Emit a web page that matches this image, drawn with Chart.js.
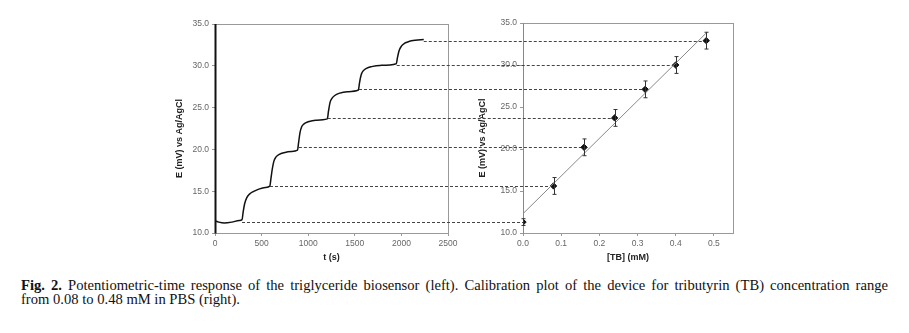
<!DOCTYPE html>
<html>
<head>
<meta charset="utf-8">
<script src="https://cdn.jsdelivr.net/npm/chart.js@4"></script>
<style>
  body { margin: 0; background: #fff; }
  #wrap { position: relative; width: 909px; height: 333px; }
  canvas { position: absolute; left: 0; top: 0; }
  #caption { position: absolute; left: 21px; top: 279px; width: 867px;
    font-family: "Liberation Serif", "Times New Roman", serif; font-size: 14.6px; line-height: 13.5px; color: #111; }
  #caption .l1 { text-align: justify; text-align-last: justify; white-space: nowrap; }
</style>
</head>
<body>
<div id="wrap">
  <canvas id="timeChart" width="909" height="265"></canvas>
  <canvas id="calChart" width="909" height="265"></canvas>
  <div id="caption">
    <div class="l1"><b>Fig. 2.</b> Potentiometric-time response of the triglyceride biosensor (left). Calibration plot of the device for tributyrin (TB) concentration range</div>
    <div>from 0.08 to 0.48 mM in PBS (right).</div>
  </div>
</div>
<script>
// left: potential vs time
const timeS = [0, 40, 100, 180, 260, 290, 302, 318, 340, 370, 410, 470, 540, 588,
  600, 614, 632, 655, 690, 740, 820, 885, 898, 912, 930, 955, 1000, 1080, 1205,
  1218, 1234, 1255, 1285, 1330, 1420, 1538, 1551, 1568, 1590, 1625, 1680, 1770, 1945,
  1958, 1975, 2000, 2035, 2080, 2150, 2240];
const potential = [11.45, 11.3, 11.2, 11.3, 11.5, 11.6, 12.5, 13.5, 14.2, 14.65, 14.95, 15.25, 15.45, 15.6,
  16.5, 17.6, 18.6, 19.1, 19.4, 19.6, 19.75, 19.9, 20.9, 22.0, 22.7, 23.05, 23.3, 23.5, 23.65,
  24.6, 25.6, 26.1, 26.45, 26.7, 26.9, 27.1, 28.0, 28.9, 29.4, 29.7, 29.9, 30.05, 30.25,
  31.0, 31.8, 32.35, 32.7, 32.9, 33.05, 33.15];
// time at which each dashed guide leaves the curve
const stepEnd = [290, 590, 900, 1210, 1545, 1950, 2240];

// right: calibration
const concTB = [0, 0.08, 0.16, 0.24, 0.32, 0.40, 0.48];
const potentialTB = [11.3, 15.6, 20.2, 23.7, 27.1, 30.0, 32.9];
const errTB = [0.4, 1.0, 1.0, 1.0, 1.0, 1.0, 1.0];
const fitX = [0, 0.482];
const fitE = [12.3, 33.9];

const tickFont = { family: 'Liberation Sans, Arial, sans-serif', size: 8.5 };
const titleFont = { family: 'Liberation Sans, Arial, sans-serif', size: 9, weight: 'bold' };

function frame(leftColor, leftWidth) {
  return {
    id: 'frame',
    beforeDatasetsDraw(chart) {
      const a = chart.chartArea, c = chart.ctx;
      c.save();
      c.strokeStyle = '#999';
      c.lineWidth = 1;
      c.strokeRect(a.left + 0.5, a.top + 0.5, a.right - a.left, a.bottom - a.top);
      c.strokeStyle = leftColor;
      c.lineWidth = leftWidth;
      c.beginPath();
      c.moveTo(a.left + 0.5, a.top);
      c.lineTo(a.left + 0.5, a.bottom + 0.5);
      c.stroke();
      c.restore();
    }
  };
}

function axes(xMin, xMax, xStep, xTitle, yWidth, yTitlePad, xDecimals) {
  return {
    x: {
      type: 'linear', min: xMin, max: xMax,
      afterFit: s => { s.height = 32; },
      grid: { drawOnChartArea: false, tickLength: 3, color: '#999' },
      border: { display: false },
      ticks: { stepSize: xStep, includeBounds: false, font: tickFont, color: '#666', padding: 3, maxRotation: 0,
        callback: v => xDecimals ? v.toFixed(xDecimals) : v },
      title: { display: true, text: xTitle, font: titleFont, color: '#222', padding: { top: 0, bottom: 1.6 } }
    },
    y: {
      min: 10, max: 35,
      afterFit: s => { s.width = yWidth; },
      grid: { drawOnChartArea: false, tickLength: 3, color: '#999' },
      border: { display: false },
      ticks: { stepSize: 5, font: tickFont, color: '#666', padding: 3, callback: v => v.toFixed(1) },
      title: { display: true, text: 'E (mV) vs Ag/AgCl        ', font: titleFont, color: '#222', padding: { top: yTitlePad, bottom: 0 } }
    }
  };
}

const timeChart = new Chart(document.getElementById('timeChart'), {
  type: 'line',
  data: {
    datasets: [{
      data: timeS.map((t, i) => ({ x: t, y: potential[i] })),
      borderColor: '#111', borderWidth: 1.5, pointRadius: 0,
      cubicInterpolationMode: 'monotone'
    }]
  },
  options: {
    responsive: false, animation: false, devicePixelRatio: 1,
    layout: { padding: { left: 160, right: 461, top: 24, bottom: 0 } },
    plugins: { legend: { display: false }, tooltip: { enabled: false } },
    scales: axes(0, 2500, 500, 't (s)', 55, 14.6, 0)
  },
  plugins: [frame('#111', 2)]
});

const guides = {
  id: 'guides',
  beforeDatasetsDraw(chart) {
    const c = chart.ctx, xs = chart.scales.x, ys = chart.scales.y, xt = timeChart.scales.x;
    c.save();
    c.strokeStyle = '#444';
    c.lineWidth = 1;
    c.setLineDash([3, 2]);
    potentialTB.forEach((e, i) => {
      const y = Math.round(ys.getPixelForValue(e)) + 0.5;
      c.beginPath();
      c.moveTo(xt.getPixelForValue(stepEnd[i]), y);
      c.lineTo(xs.getPixelForValue(concTB[i]), y);
      c.stroke();
    });
    c.restore();
  },
  afterDatasetsDraw(chart) {
    const c = chart.ctx, xs = chart.scales.x, ys = chart.scales.y;
    c.save();
    c.strokeStyle = '#333';
    c.lineWidth = 1;
    concTB.forEach((x, i) => {
      const px = Math.round(xs.getPixelForValue(x)) + 0.5;
      const lo = ys.getPixelForValue(potentialTB[i] - errTB[i]);
      const hi = ys.getPixelForValue(potentialTB[i] + errTB[i]);
      c.beginPath();
      c.moveTo(px, lo); c.lineTo(px, hi);
      c.moveTo(px - 2, lo); c.lineTo(px + 2, lo);
      c.moveTo(px - 2, hi); c.lineTo(px + 2, hi);
      c.stroke();
    });
    c.restore();
  }
};

new Chart(document.getElementById('calChart'), {
  type: 'scatter',
  data: {
    datasets: [{
      type: 'line',
      data: fitX.map((x, i) => ({ x: x, y: fitE[i] })),
      borderColor: '#888', borderWidth: 1, pointRadius: 0
    }, {
      data: concTB.map((x, i) => ({ x: x, y: potentialTB[i] })),
      pointStyle: 'rectRot', pointRadius: 3.2,
      backgroundColor: '#111', borderColor: '#111'
    }]
  },
  options: {
    responsive: false, animation: false, devicePixelRatio: 1,
    layout: { padding: { left: 473, right: 176, top: 23, bottom: 0 } },
    plugins: { legend: { display: false }, tooltip: { enabled: false } },
    scales: axes(0, 0.55, 0.1, '[TB] (mM)', 50, 4.6, 1)
  },
  plugins: [frame('#888', 1), guides]
});
</script>
</body>
</html>
